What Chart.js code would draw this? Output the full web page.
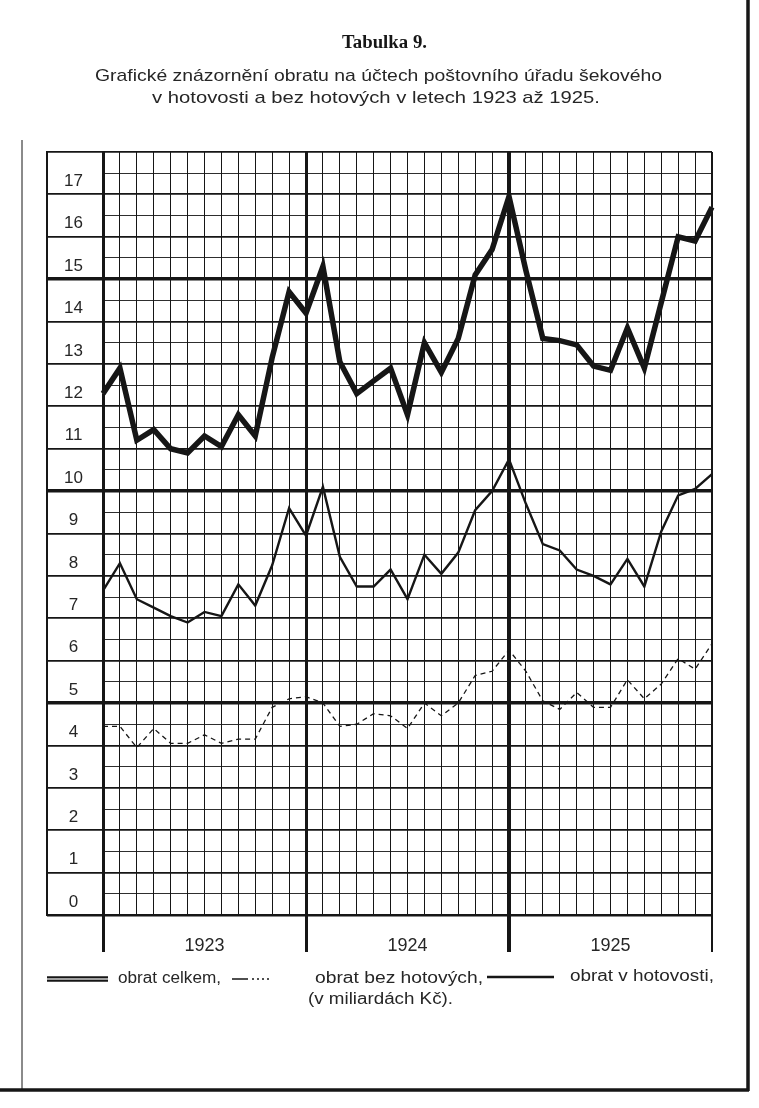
<!DOCTYPE html>
<html lang="cs">
<head>
<meta charset="utf-8">
<title>Tabulka 9</title>
<script src="https://cdn.jsdelivr.net/npm/chart.js@4.4.1/dist/chart.umd.min.js"></script>
<style>
  html, body { margin: 0; padding: 0; background: #fff; }
  #obal { position: relative; width: 759px; height: 1108px; }
</style>
</head>
<body>
<div id="obal"><canvas id="graf"></canvas></div>
<script>
// body grafu - měsíce 1923 až 1925 (37 bodů, poslední = leden 1926)
const mesice = [
  'I.1923', 'II.1923', 'III.1923', 'IV.1923', 'V.1923', 'VI.1923',
  'VII.1923', 'VIII.1923', 'IX.1923', 'X.1923', 'XI.1923', 'XII.1923',
  'I.1924', 'II.1924', 'III.1924', 'IV.1924', 'V.1924', 'VI.1924',
  'VII.1924', 'VIII.1924', 'IX.1924', 'X.1924', 'XI.1924', 'XII.1924',
  'I.1925', 'II.1925', 'III.1925', 'IV.1925', 'V.1925', 'VI.1925',
  'VII.1925', 'VIII.1925', 'IX.1925', 'X.1925', 'XI.1925', 'XII.1925',
  'I.1926'
];
const roky = ['1923', '1924', '1925'];

// v miliardách Kč
const celkem = [12.3, 12.9, 11.2, 11.45, 11.0, 10.9, 11.3, 11.05, 11.8, 11.3, 13.15, 14.7,
  14.2, 15.3, 13.05, 12.3, 12.6, 12.9, 11.8, 13.5, 12.8, 13.6, 15.1, 15.7,
  16.95, 15.2, 13.6, 13.55, 13.45, 12.95, 12.85, 13.85, 12.9, 14.45, 16.0, 15.9, 16.7];
const hotovost = [7.65, 8.3, 7.45, 7.25, 7.05, 6.9, 7.15, 7.05, 7.8, 7.3, 8.25, 9.6,
  8.95, 10.1, 8.45, 7.75, 7.75, 8.15, 7.45, 8.5, 8.05, 8.55, 9.55, 10.0,
  10.75, 9.7, 8.75, 8.6, 8.15, 8.0, 7.8, 8.4, 7.75, 9.05, 9.9, 10.05, 10.4];
const bezHotovych = [4.45, 4.45, 3.95, 4.4, 4.05, 4.05, 4.25, 4.05, 4.15, 4.15, 4.9, 5.1,
  5.15, 5.0, 4.45, 4.5, 4.75, 4.7, 4.4, 5.0, 4.7, 5.0, 5.65, 5.75,
  6.25, 5.75, 5.05, 4.85, 5.25, 4.9, 4.9, 5.55, 5.1, 5.45, 6.05, 5.8, 6.4];

const cerna = '#161616';
const pismo = "'Liberation Sans', Arial, sans-serif";

function cara(ctx, x1, y1, x2, y2) {
  ctx.beginPath();
  ctx.moveTo(x1, y1);
  ctx.lineTo(x2, y2);
  ctx.stroke();
}

// text roztažený / stažený na danou šířku (sazba v originále je úzká a řídká)
function textNaSirku(ctx, text, x, y, sirka) {
  const w = ctx.measureText(text).width;
  ctx.save();
  ctx.translate(x, y);
  ctx.scale(sirka / w, 1);
  ctx.textAlign = 'left';
  ctx.fillText(text, 0, 0);
  ctx.restore();
}

const ramecek = {
  id: 'ramecek',
  beforeDraw(chart) {
    const ctx = chart.ctx;
    ctx.save();
    ctx.fillStyle = '#fff';
    ctx.fillRect(0, 0, chart.width, chart.height);
    ctx.restore();
  },
  afterDraw(chart) {
    const ctx = chart.ctx;
    const a = chart.chartArea;
    const osaY = chart.scales.y;
    const ds = chart.data.datasets;
    ctx.save();
    ctx.strokeStyle = cerna;
    ctx.fillStyle = cerna;

    // levý okraj sloupce s čísly
    ctx.lineWidth = 2;
    cara(ctx, osaY.left, a.top - 1, osaY.left, a.bottom + 1);

    // okraj stránky
    ctx.lineWidth = 1;
    cara(ctx, 22, 140, 22, 1090);
    ctx.lineWidth = 3.5;
    cara(ctx, 748, 0, 748, 1091);
    cara(ctx, 0, 1090, 749, 1090);

    // nadpisy
    ctx.textBaseline = 'alphabetic';
    ctx.font = "bold 18px 'Liberation Serif', serif";
    textNaSirku(ctx, 'Tabulka 9.', 342, 48, 85);
    ctx.font = '17px ' + pismo;
    ctx.fillStyle = '#262626';
    textNaSirku(ctx, 'Grafické znázornění obratu na účtech poštovního úřadu šekového', 95, 81, 567);
    textNaSirku(ctx, 'v hotovosti a bez hotových v letech 1923 až 1925.', 152, 103, 448);

    // legenda
    const yL = 979;
    ctx.lineCap = 'butt';
    ctx.strokeStyle = ds[0].borderColor;
    ctx.lineWidth = ds[0].borderWidth;
    cara(ctx, 47, yL, 108, yL);
    ctx.strokeStyle = ds[1].borderColor;
    ctx.lineWidth = ds[1].borderWidth;
    cara(ctx, 47, yL, 108, yL);

    ctx.strokeStyle = ds[3].borderColor;
    ctx.lineWidth = ds[3].borderWidth;
    ctx.setLineDash([16, 4, 2, 3, 2, 3, 2, 3, 2, 3]);
    cara(ctx, 232, yL, 270, yL);
    ctx.setLineDash([]);

    ctx.strokeStyle = ds[2].borderColor;
    ctx.lineWidth = ds[2].borderWidth;
    cara(ctx, 487, yL - 2, 554, yL - 2);

    ctx.fillStyle = '#262626';
    ctx.font = '16px ' + pismo;
    textNaSirku(ctx, 'obrat celkem,', 118, yL + 4, 103);
    textNaSirku(ctx, 'obrat bez hotových,', 315, yL + 4, 168);
    textNaSirku(ctx, 'obrat v hotovosti,', 570, yL + 2, 144);
    textNaSirku(ctx, '(v miliardách Kč).', 308, yL + 25, 145);
    ctx.restore();
  }
};

new Chart(document.getElementById('graf'), {
  type: 'line',
  data: {
    labels: mesice,
    datasets: [
      { label: 'obrat celkem', data: celkem, borderColor: cerna, borderWidth: 5.5,
        pointRadius: 0, tension: 0, borderJoinStyle: 'miter' },
      { label: 'obrat celkem', data: celkem, borderColor: '#cfcfcf', borderWidth: 1.6,
        pointRadius: 0, tension: 0, borderJoinStyle: 'miter' },
      { label: 'obrat v hotovosti', data: hotovost, borderColor: cerna, borderWidth: 2.4,
        pointRadius: 0, tension: 0 },
      { label: 'obrat bez hotových', data: bezHotovych, borderColor: cerna, borderWidth: 1.3,
        borderDash: [5, 4], pointRadius: 0, tension: 0 }
    ]
  },
  options: {
    responsive: true,
    maintainAspectRatio: false,
    animation: false,
    events: [],
    layout: { padding: { left: 47, right: 47, top: 152, bottom: 156 } },
    plugins: {
      legend: { display: false },
      tooltip: { enabled: false }
    },
    scales: {
      x: {
        offset: false,
        border: { display: false },
        grid: {
          color: cerna,
          lineWidth: c => (c.index === 24 ? 4 : c.index === 36 ? 2 : c.index % 12 === 0 ? 3 : 1),
          tickLength: 37,
          tickColor: c => (c.index % 12 === 0 ? cerna : 'rgba(0,0,0,0)')
        },
        ticks: {
          autoSkip: false,
          maxRotation: 0,
          padding: -17,
          color: '#262626',
          font: { family: pismo, size: 18 },
          callback: (v, i) => (i % 12 === 6 ? roky[(i - 6) / 12] : '')
        },
        afterFit: s => { s.height = 37; }
      },
      y: {
        min: 0,
        max: 18,
        border: { display: false },
        grid: {
          color: cerna,
          lineWidth: c => {
            const v = c.tick.value;
            if (v === 0) return 2.5;
            if (v % 5 === 0) return 3.5;
            return Number.isInteger(v) ? 1.8 : 0.9;
          },
          tickLength: 56,
          tickColor: c => (Number.isInteger(c.tick.value) ? cerna : 'rgba(0,0,0,0)')
        },
        ticks: {
          stepSize: 0.5,
          maxTicksLimit: 100,
          autoSkip: false,
          crossAlign: 'center',
          padding: -36,
          labelOffset: -13,
          color: '#262626',
          font: { family: pismo, size: 17 },
          callback: v => (Number.isInteger(v) && v < 18 ? String(v) : '')
        },
        afterFit: s => { s.width = 56; }
      }
    }
  },
  plugins: [ramecek]
});
</script>
</body>
</html>
